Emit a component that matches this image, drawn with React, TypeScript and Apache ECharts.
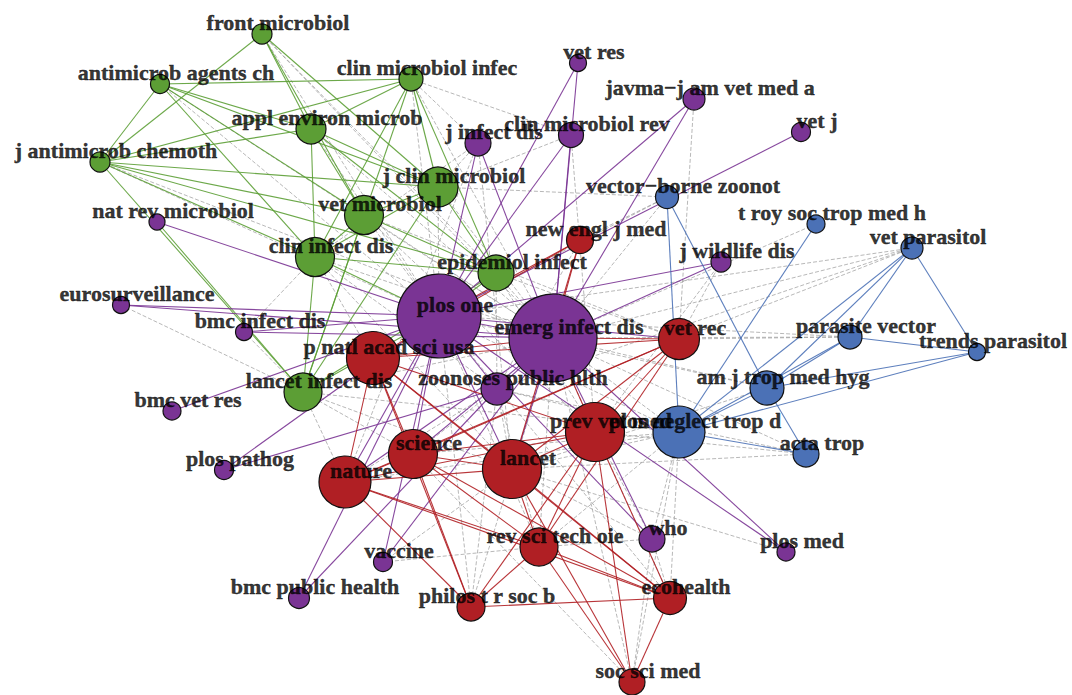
import React, { useEffect, useRef } from "react";
import * as echarts from "echarts";

// ---- nodes (layout coordinates) ----
const nodeNames = [
  "front microbiol", "antimicrob agents ch", "clin microbiol infec", "appl environ microb",
  "j antimicrob chemoth", "j clin microbiol", "vet microbiol", "clin infect dis",
  "epidemiol infect", "lancet infect dis",
  "vet res", "javma−j am vet med a", "vet j", "j infect dis", "clin microbiol rev",
  "nat rev microbiol", "j wildlife dis", "eurosurveillance", "bmc infect dis", "plos one",
  "emerg infect dis", "zoonoses public hlth", "bmc vet res", "plos pathog", "who",
  "plos med", "vaccine", "bmc public health",
  "new engl j med", "vet rec", "p natl acad sci usa", "prev vet med", "science", "lancet",
  "nature", "rev sci tech oie", "ecohealth", "philos t r soc b", "soc sci med",
  "vector−borne zoonot", "t roy soc trop med h", "vet parasitol", "parasite vector",
  "trends parasitol", "am j trop med hyg", "plos neglect trop d", "acta trop",
];
const nodeGroup = [
  0, 0, 0, 0, 0, 0, 0, 0, 0, 0,
  1, 1, 1, 1, 1, 1, 1, 1, 1, 1, 1, 1, 1, 1, 1, 1, 1, 1,
  2, 2, 2, 2, 2, 2, 2, 2, 2, 2, 2,
  3, 3, 3, 3, 3, 3, 3, 3,
];
const nodeX = [
  262, 160, 411, 311, 100, 438, 364, 315, 496, 303,
  578, 694, 801, 478, 571, 157, 721, 121, 244, 439, 553, 497, 172, 224, 652, 786, 383, 299,
  580, 679, 373, 595, 413, 512, 345, 539, 670, 471, 632,
  667, 816, 912, 850, 977, 767, 679, 806,
];
const nodeY = [
  34, 84, 79, 129, 162, 187, 215, 257, 273, 392,
  63, 99, 132, 143, 135, 222, 262, 305, 332, 316, 338, 389, 411, 470, 539, 552, 562, 598,
  240, 339, 358, 432, 454, 469, 482, 547, 598, 607, 682,
  197, 224, 248, 337, 352, 388, 432, 454,
];
const nodeRadius = [
  10, 9.5, 12, 15, 10, 20, 19.5, 19.5, 18, 19,
  8.5, 11, 9.5, 13, 12.5, 8, 10, 8.5, 8.5, 42, 44, 16, 9, 9.5, 13, 9, 9.5, 10.5,
  13.5, 20.5, 26.5, 29.5, 24.5, 29.5, 26, 19, 16.5, 14, 13,
  11.5, 9, 11, 12, 8.5, 17, 26, 13,
];
const groupColors = ["#5c9e35", "#7a3494", "#b01f24", "#4b71b6"];

// ---- edges ----
const greenEdges = [
  ["front microbiol", "j antimicrob chemoth"], ["front microbiol", "appl environ microb"],
  ["front microbiol", "j clin microbiol"], ["front microbiol", "vet microbiol"],
  ["antimicrob agents ch", "clin microbiol infec"], ["antimicrob agents ch", "j antimicrob chemoth"],
  ["antimicrob agents ch", "appl environ microb"], ["antimicrob agents ch", "j clin microbiol"],
  ["antimicrob agents ch", "vet microbiol"], ["antimicrob agents ch", "clin infect dis"],
  ["clin microbiol infec", "j antimicrob chemoth"], ["clin microbiol infec", "appl environ microb"],
  ["clin microbiol infec", "j clin microbiol"], ["clin microbiol infec", "clin infect dis"],
  ["clin microbiol infec", "epidemiol infect"], ["clin microbiol infec", "lancet infect dis"],
  ["appl environ microb", "j antimicrob chemoth"], ["appl environ microb", "vet microbiol"],
  ["appl environ microb", "j clin microbiol"], ["appl environ microb", "clin infect dis"],
  ["appl environ microb", "epidemiol infect"],
  ["j antimicrob chemoth", "j clin microbiol"], ["j antimicrob chemoth", "vet microbiol"],
  ["j antimicrob chemoth", "clin infect dis"], ["j antimicrob chemoth", "epidemiol infect"],
  ["j antimicrob chemoth", "lancet infect dis"],
  ["vet microbiol", "j clin microbiol"], ["vet microbiol", "clin infect dis"],
  ["vet microbiol", "epidemiol infect"], ["vet microbiol", "lancet infect dis"],
  ["j clin microbiol", "clin infect dis"], ["j clin microbiol", "epidemiol infect"],
  ["j clin microbiol", "lancet infect dis"],
  ["clin infect dis", "epidemiol infect"], ["clin infect dis", "lancet infect dis"],
  ["clin infect dis", "plos one"], ["epidemiol infect", "lancet infect dis"],
  ["nat rev microbiol", "lancet infect dis"], ["lancet infect dis", "plos one"],
  ["epidemiol infect", "plos one"],
];
const purpleEdges = [
  ["plos one", "emerg infect dis"], ["nat rev microbiol", "plos one"],
  ["eurosurveillance", "plos one"], ["eurosurveillance", "emerg infect dis"],
  ["bmc infect dis", "plos one"], ["bmc infect dis", "emerg infect dis"],
  ["bmc vet res", "plos one"], ["plos pathog", "zoonoses public hlth"], ["plos pathog", "plos one"],
  ["bmc public health", "plos one"], ["bmc public health", "zoonoses public hlth"],
  ["vaccine", "plos one"], ["vaccine", "emerg infect dis"],
  ["j infect dis", "plos one"], ["j infect dis", "emerg infect dis"],
  ["clin microbiol rev", "plos one"], ["clin microbiol rev", "emerg infect dis"],
  ["vet res", "plos one"], ["vet res", "emerg infect dis"],
  ["javma−j am vet med a", "plos one"], ["javma−j am vet med a", "emerg infect dis"],
  ["vet j", "plos one"], ["j wildlife dis", "plos one"], ["j wildlife dis", "emerg infect dis"],
  ["who", "emerg infect dis"], ["who", "plos one"], ["plos med", "emerg infect dis"],
  ["plos med", "plos one"], ["zoonoses public hlth", "plos one"],
  ["zoonoses public hlth", "emerg infect dis"], ["plos one", "science"], ["plos one", "nature"],
  ["emerg infect dis", "lancet"], ["emerg infect dis", "science"], ["plos one", "lancet"],
  ["emerg infect dis", "nature"], ["plos one", "vet rec"],
];
const redEdges = [
  ["new engl j med", "plos one"], ["new engl j med", "p natl acad sci usa"],
  ["new engl j med", "emerg infect dis"], ["new engl j med", "lancet"],
  ["vet rec", "emerg infect dis"], ["vet rec", "prev vet med"], ["vet rec", "lancet"],
  ["vet rec", "science"], ["vet rec", "nature"], ["vet rec", "rev sci tech oie"],
  ["vet rec", "p natl acad sci usa"],
  ["p natl acad sci usa", "science"], ["p natl acad sci usa", "nature"],
  ["p natl acad sci usa", "lancet"], ["p natl acad sci usa", "prev vet med"],
  ["p natl acad sci usa", "philos t r soc b"], ["p natl acad sci usa", "emerg infect dis"],
  ["p natl acad sci usa", "ecohealth"],
  ["science", "nature"], ["science", "lancet"], ["science", "prev vet med"],
  ["science", "philos t r soc b"], ["science", "ecohealth"], ["science", "rev sci tech oie"],
  ["nature", "lancet"], ["nature", "prev vet med"], ["nature", "ecohealth"],
  ["nature", "philos t r soc b"], ["nature", "rev sci tech oie"],
  ["lancet", "prev vet med"], ["lancet", "rev sci tech oie"], ["lancet", "ecohealth"],
  ["lancet", "soc sci med"],
  ["prev vet med", "rev sci tech oie"], ["prev vet med", "ecohealth"],
  ["prev vet med", "soc sci med"], ["prev vet med", "philos t r soc b"],
  ["prev vet med", "emerg infect dis"],
  ["rev sci tech oie", "ecohealth"], ["rev sci tech oie", "soc sci med"],
  ["rev sci tech oie", "philos t r soc b"], ["ecohealth", "soc sci med"],
  ["philos t r soc b", "ecohealth"],
];
const blueEdges = [
  ["vector−borne zoonot", "plos neglect trop d"], ["vector−borne zoonot", "am j trop med hyg"],
  ["t roy soc trop med h", "plos neglect trop d"],
  ["vet parasitol", "parasite vector"], ["vet parasitol", "am j trop med hyg"],
  ["vet parasitol", "plos neglect trop d"], ["vet parasitol", "trends parasitol"],
  ["parasite vector", "trends parasitol"], ["parasite vector", "am j trop med hyg"],
  ["parasite vector", "plos neglect trop d"], ["trends parasitol", "plos neglect trop d"],
  ["trends parasitol", "am j trop med hyg"], ["am j trop med hyg", "plos neglect trop d"],
  ["am j trop med hyg", "acta trop"], ["plos neglect trop d", "acta trop"],
];
const grayEdges = [
  ["front microbiol", "plos one"], ["front microbiol", "emerg infect dis"], ["front microbiol", "epidemiol infect"],
  ["antimicrob agents ch", "plos one"], ["antimicrob agents ch", "emerg infect dis"],
  ["clin microbiol infec", "emerg infect dis"], ["clin microbiol infec", "plos one"],
  ["clin microbiol infec", "clin microbiol rev"], ["clin microbiol infec", "j infect dis"],
  ["appl environ microb", "plos one"], ["appl environ microb", "emerg infect dis"],
  ["j antimicrob chemoth", "plos one"], ["j antimicrob chemoth", "emerg infect dis"],
  ["j clin microbiol", "emerg infect dis"], ["j clin microbiol", "plos one"],
  ["j clin microbiol", "j infect dis"], ["j clin microbiol", "vector−borne zoonot"],
  ["j clin microbiol", "clin microbiol rev"],
  ["vet microbiol", "plos one"], ["vet microbiol", "emerg infect dis"], ["vet microbiol", "vet rec"],
  ["vet microbiol", "prev vet med"],
  ["clin infect dis", "emerg infect dis"], ["clin infect dis", "lancet"], ["clin infect dis", "j infect dis"],
  ["clin infect dis", "p natl acad sci usa"], ["clin infect dis", "zoonoses public hlth"],
  ["epidemiol infect", "emerg infect dis"], ["epidemiol infect", "prev vet med"],
  ["epidemiol infect", "vet rec"], ["epidemiol infect", "zoonoses public hlth"],
  ["lancet infect dis", "emerg infect dis"], ["lancet infect dis", "lancet"],
  ["lancet infect dis", "science"], ["lancet infect dis", "nature"], ["lancet infect dis", "plos neglect trop d"],
  ["javma−j am vet med a", "vet rec"], ["clin microbiol rev", "prev vet med"],
  ["vector−borne zoonot", "emerg infect dis"], ["vector−borne zoonot", "plos one"],
  ["vector−borne zoonot", "new engl j med"], ["t roy soc trop med h", "emerg infect dis"],
  ["vet parasitol", "emerg infect dis"], ["vet parasitol", "plos one"], ["vet parasitol", "vet rec"],
  ["vet parasitol", "zoonoses public hlth"],
  ["parasite vector", "emerg infect dis"], ["parasite vector", "vet rec"], ["parasite vector", "plos one"],
  ["acta trop", "emerg infect dis"], ["acta trop", "zoonoses public hlth"], ["acta trop", "lancet"],
  ["acta trop", "prev vet med"],
  ["am j trop med hyg", "emerg infect dis"], ["am j trop med hyg", "plos one"], ["am j trop med hyg", "lancet"],
  ["plos neglect trop d", "emerg infect dis"], ["plos neglect trop d", "plos one"],
  ["plos neglect trop d", "lancet"], ["plos neglect trop d", "science"],
  ["plos neglect trop d", "zoonoses public hlth"], ["plos neglect trop d", "who"],
  ["plos neglect trop d", "ecohealth"], ["plos neglect trop d", "soc sci med"],
  ["plos neglect trop d", "rev sci tech oie"], ["plos neglect trop d", "nature"],
  ["who", "lancet"], ["who", "prev vet med"], ["who", "ecohealth"], ["who", "rev sci tech oie"],
  ["rev sci tech oie", "emerg infect dis"], ["rev sci tech oie", "plos one"],
  ["rev sci tech oie", "zoonoses public hlth"],
  ["ecohealth", "emerg infect dis"], ["ecohealth", "plos one"],
  ["philos t r soc b", "emerg infect dis"], ["philos t r soc b", "plos one"],
  ["philos t r soc b", "zoonoses public hlth"],
  ["soc sci med", "emerg infect dis"], ["soc sci med", "who"], ["soc sci med", "science"],
  ["science", "zoonoses public hlth"], ["nature", "zoonoses public hlth"], ["lancet", "zoonoses public hlth"],
  ["vaccine", "lancet"], ["vaccine", "rev sci tech oie"],
  ["bmc infect dis", "lancet infect dis"], ["bmc infect dis", "clin infect dis"],
  ["eurosurveillance", "lancet infect dis"], ["j infect dis", "lancet"], ["j infect dis", "nature"],
  ["j wildlife dis", "vet rec"], ["j wildlife dis", "prev vet med"],
  ["new engl j med", "zoonoses public hlth"], ["plos med", "lancet"],
];

export default function App() {
  const ref = useRef<HTMLDivElement>(null);
  useEffect(() => {
    document.body.style.margin = "0";
    const chart = echarts.init(ref.current!, null, { renderer: "svg" });

    const nodes = nodeNames.map((name, i) => ({
      name,
      value: [nodeX[i], nodeY[i]],
      symbolSize: nodeRadius[i] * 2,
      itemStyle: {
        color: groupColors[nodeGroup[i]],
        borderColor: "#111",
        borderWidth: 1.2,
      },
    }));

    const mk = (list: string[][], style: any) =>
      list.map(([s, t]) => ({ source: s, target: t, lineStyle: style }));

    const links = [
      ...mk(grayEdges, { color: "#9c9c9c", width: 0.8, type: [4, 2], opacity: 0.9 }),
      ...mk(greenEdges, { color: groupColors[0], width: 1.1, opacity: 0.9 }),
      ...mk(purpleEdges, { color: groupColors[1], width: 1.1, opacity: 0.9 }),
      ...mk(redEdges, { color: groupColors[2], width: 1.1, opacity: 0.9 }),
      ...mk(blueEdges, { color: groupColors[3], width: 1.1, opacity: 0.9 }),
    ];

    const option: any = {
      animation: false,
      backgroundColor: "#ffffff",
      grid: { left: 0, right: 0, top: 0, bottom: 0 },
      xAxis: { type: "value", min: 0, max: 1072, show: false },
      yAxis: { type: "value", min: 0, max: 695, inverse: true, show: false },
      series: [
        {
          type: "graph",
          coordinateSystem: "cartesian2d",
          layout: "none",
          symbol: "circle",
          data: nodes,
          links,
          edgeSymbol: ["none", "none"],
          label: { show: false },
          emphasis: { disabled: true },
          silent: true,
          z: 2,
        },
        {
          type: "scatter",
          symbol: "circle",
          symbolSize: 1,
          itemStyle: { color: "rgba(0,0,0,0)" },
          data: nodeNames.map((name, i) => ({ name, value: [nodeX[i], nodeY[i]] })),
          label: {
            show: true,
            position: "inside",
            offset: [16, -12],
            formatter: "{b}",
            color: "#000000",
            textBorderColor: "#000000",
            textBorderWidth: 0.4,
            fontFamily: "'Liberation Serif', 'Times New Roman', serif",
            fontWeight: "bold",
            fontSize: 22,
          },
          emphasis: { disabled: true },
          silent: true,
          z: 10,
        },
      ],
    };
    chart.setOption(option);
    return () => chart.dispose();
  }, []);
  return <div ref={ref} style={{ width: 1072, height: 695 }} />;
}
